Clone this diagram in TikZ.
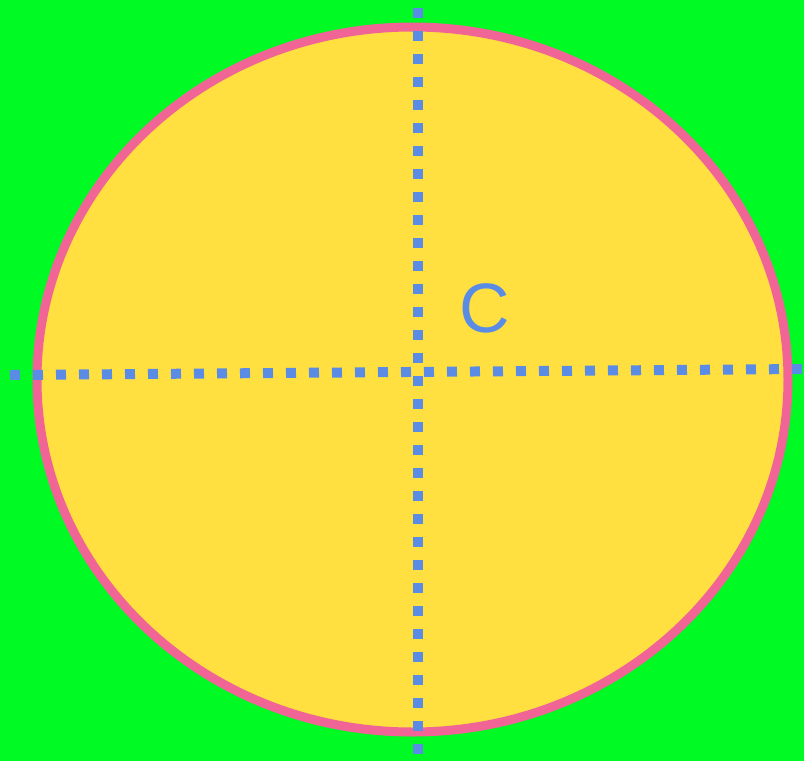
\documentclass[tikz,border=0pt]{standalone}
\usepackage{fontspec}
\setmainfont{Liberation Sans}
\usetikzlibrary{shapes.geometric}
\definecolor{bggreen}{RGB}{0,250,35}
\definecolor{fillyellow}{RGB}{255,224,64}
\definecolor{rimpink}{RGB}{240,100,150}
\definecolor{dotblue}{RGB}{90,140,230}
\tikzset{
  dotline/.style={draw=dotblue, line width=10pt, dash pattern=on 10pt off 13pt},
  rim/.style={draw=rimpink, fill=fillyellow, line width=9pt}
}
\begin{document}
\begin{tikzpicture}[x=1pt,y=-1pt]
\fill[bggreen] (0,0) rectangle (804,761);
\useasboundingbox (0,0) rectangle (804,761);
\node[rim, ellipse, minimum width=751pt, minimum height=705pt, inner sep=0pt] (oval) at (412.5,379.5) {};
\coordinate (vtop) at (418,8);
\coordinate (vbot) at (418,761);
\coordinate (hleft) at (10,375);
\coordinate (hright) at (804,369);
\draw[dotline] (vtop) -- (vbot);
\draw[dotline] (hleft) -- (hright);
\node[text=dotblue, font=\fontsize{70}{70}\selectfont, inner sep=0pt] (c) at (485,308) {C};
\end{tikzpicture}
\end{document}
